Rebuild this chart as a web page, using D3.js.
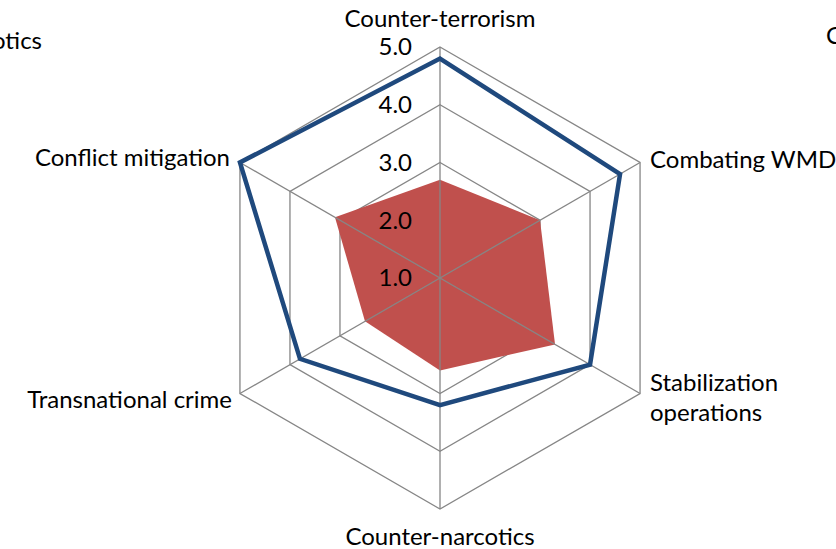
<!DOCTYPE html>
<html>
<head>
<meta charset="utf-8">
<script src="https://cdn.jsdelivr.net/npm/d3@7"></script>
<style>
  body { margin: 0; background: #fff; overflow: hidden; }
  svg { display: block; }
  text { font-family: Lato, "Open Sans", sans-serif; fill: #000; }
</style>
</head>
<body>
<div class="canvas"></div>
<script>
// what to show
var categories = ['Counter-terrorism', 'Combating WMD', 'Stabilization operations',
                  'Counter-narcotics', 'Transnational crime', 'Conflict mitigation'];
var outlineValues = [4.8, 4.6, 4.0, 3.2, 3.8, 5.0];
var filledValues = [2.7, 3.0, 3.3, 2.6, 2.5, 3.1];
var tickValues = [1, 2, 3, 4, 5];

// where does it live
var width = 836,
    height = 549,
    cx = 440,
    cy = 278,
    radius = 231,
    fontSize = '24px';

var svg = d3.select('.canvas').append('svg')
    .attr('width', width)
    .attr('height', height);

var r = d3.scaleLinear().domain([1, 5]).range([0, radius]);
var angle = d3.scalePoint().domain(categories).range([0, 2 * Math.PI * 5 / 6]);

function pt(cat, v) {
    var a = angle(cat);
    return [cx + r(v) * Math.sin(a), cy - r(v) * Math.cos(a)];
}

var g = svg.append('g');

// rings
g.selectAll('polygon.ring')
    .data(tickValues.slice(1))
    .enter()
    .append('polygon')
    .attr('class', 'ring')
    .attr('points', function (t) {
        return categories.map(function (c) { return pt(c, t).join(','); }).join(' ');
    })
    .attr('fill', 'none')
    .attr('stroke', '#868686')
    .attr('stroke-width', 1.3);

// filled series
g.append('polygon')
    .attr('points', categories.map(function (c, i) { return pt(c, filledValues[i]).join(','); }).join(' '))
    .attr('fill', '#C0504D');

// spokes
g.selectAll('line.spoke')
    .data(categories)
    .enter()
    .append('line')
    .attr('x1', cx)
    .attr('y1', cy)
    .attr('x2', function (c) { return pt(c, 5)[0]; })
    .attr('y2', function (c) { return pt(c, 5)[1]; })
    .attr('stroke', '#868686')
    .attr('stroke-width', 1.3);

// outline series
g.append('polygon')
    .attr('points', categories.map(function (c, i) { return pt(c, outlineValues[i]).join(','); }).join(' '))
    .attr('fill', 'none')
    .attr('stroke', '#1F497D')
    .attr('stroke-width', 4.5)
    .attr('stroke-linejoin', 'miter');

// tick labels
g.selectAll('text.tick')
    .data(tickValues)
    .enter()
    .append('text')
    .attr('x', cx - 28)
    .attr('y', function (t) { return cy - r(t); })
    .attr('dy', '0.35em')
    .attr('text-anchor', 'end')
    .style('font-size', fontSize)
    .text(function (t) { return d3.format('.1f')(t); });

// category labels
var labelPos = {
    'Counter-terrorism': { x: 440, y: 19, anchor: 'middle' },
    'Combating WMD': { x: 650, y: 160, anchor: 'start' },
    'Stabilization operations': { x: 650, y: 383, anchor: 'start', lines: ['Stabilization', 'operations'] },
    'Counter-narcotics': { x: 440, y: 537, anchor: 'middle' },
    'Transnational crime': { x: 232, y: 400, anchor: 'end' },
    'Conflict mitigation': { x: 230, y: 158, anchor: 'end' }
};

categories.forEach(function (c) {
    var p = labelPos[c];
    var lines = p.lines || [c];
    var t = g.append('text')
        .attr('text-anchor', p.anchor)
        .style('font-size', fontSize);
    lines.forEach(function (l, i) {
        t.append('tspan')
            .attr('x', p.x)
            .attr('y', p.y + i * 30)
            .attr('dy', '0.35em')
            .text(l);
    });
});

// cut-off labels at the edges
g.append('text').attr('x', 42).attr('y', 41).attr('dy', '0.35em')
    .attr('text-anchor', 'end').style('font-size', fontSize).text('Counter-narcotics');
g.append('text').attr('x', 826).attr('y', 36).attr('dy', '0.35em')
    .attr('text-anchor', 'start').style('font-size', fontSize).text('Counter-terrorism');
</script>
</body>
</html>
